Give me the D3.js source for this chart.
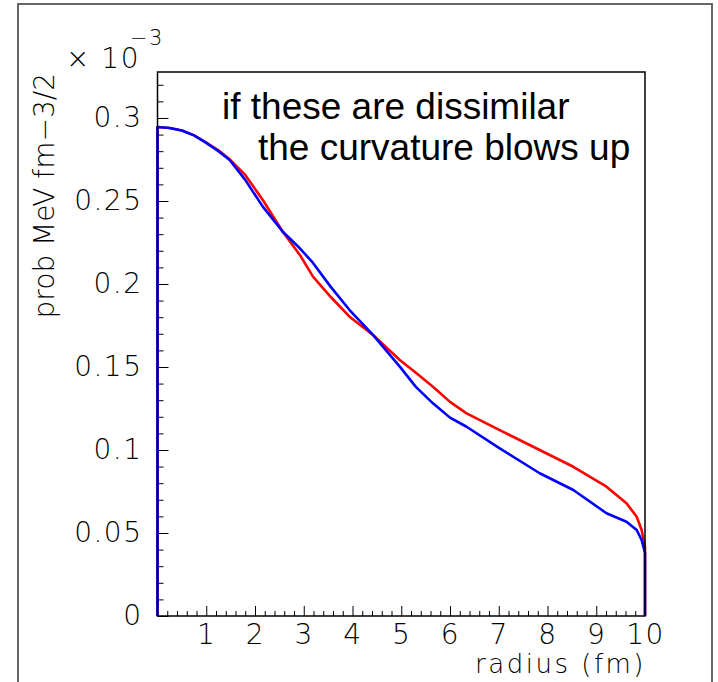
<!DOCTYPE html>
<html>
<head>
<meta charset="utf-8">
<script src="https://cdn.jsdelivr.net/npm/d3@7"></script>
<style>
  body { margin: 0; background: #fff; }
  .ax text { font-family: "DejaVu Sans", sans-serif; font-weight: 200; font-size: 28px; fill: #000; letter-spacing: 1.5px; }
  .ax line { stroke: #000; stroke-width: 1; }
</style>
</head>
<body>
<svg id="chart" width="718" height="682"></svg>
<script>
// values, y in units of 1e-3
var radius = [0, 0, 0.25, 0.5, 0.75, 1.0, 1.25, 1.48, 1.8, 2.16, 2.57, 2.92, 3.19, 3.55, 3.94, 4.42, 4.97, 5.3, 5.65, 6.0, 6.34, 7.02, 7.84, 8.53, 9.21, 9.62, 9.83, 9.93, 10, 10];
var probRed = [0, 0.2946, 0.2940, 0.2925, 0.2895, 0.2852, 0.2805, 0.2751, 0.2657, 0.2506, 0.2315, 0.2175, 0.2044, 0.1923, 0.1803, 0.1693, 0.1542, 0.1465, 0.1381, 0.1290, 0.1221, 0.1120, 0.1000, 0.0899, 0.0779, 0.0679, 0.0598, 0.0518, 0.0417, 0];
var probBlue = [0, 0.2946, 0.2940, 0.2925, 0.2895, 0.2850, 0.2800, 0.2747, 0.2627, 0.2466, 0.2315, 0.2215, 0.2127, 0.1984, 0.1843, 0.1693, 0.1502, 0.1380, 0.1281, 0.1195, 0.1140, 0.1010, 0.0860, 0.0759, 0.0619, 0.0568, 0.0518, 0.0458, 0.0380, 0];

var xMajor = [1, 2, 3, 4, 5, 6, 7, 8, 9, 10];
var yMajor = [0, 0.05, 0.1, 0.15, 0.2, 0.25, 0.3];
var yLabels = ["0", "0.05", "0.1", "0.15", "0.2", "0.25", "0.3"];

var svg = d3.select("#chart");

// canvas border
svg.append("rect")
  .attr("x", 18).attr("y", 4)
  .attr("width", 694).attr("height", 700)
  .attr("fill", "none")
  .attr("stroke", "#666")
  .attr("stroke-width", 2);

var L = 157.5, T = 72, R = 645, B = 616;
var x = d3.scaleLinear().domain([0, 10]).range([L, R]);
var y = d3.scaleLinear().domain([0, 0.3277]).range([B, T]);

var xMinor = d3.range(0.2, 10, 0.2).filter(function(d){ return Math.abs(d - Math.round(d)) > 0.01; });
var yMinor = d3.range(0.01, 0.325, 0.01).filter(function(d){ return Math.abs(d / 0.05 - Math.round(d / 0.05)) > 0.01; });

// minor ticks
svg.append("g").attr("class", "ax")
  .attr("transform", "translate(0," + B + ")")
  .call(d3.axisBottom(x).tickValues(xMinor).tickSize(-5).tickFormat(""))
  .call(function(g){ g.select(".domain").remove(); });
svg.append("g").attr("class", "ax")
  .attr("transform", "translate(" + L + ",0)")
  .call(d3.axisLeft(y).tickValues(yMinor).tickSize(-6).tickFormat(""))
  .call(function(g){ g.select(".domain").remove(); });

// major ticks + labels
svg.append("g").attr("class", "ax")
  .attr("transform", "translate(0," + B + ")")
  .call(d3.axisBottom(x).tickValues(xMajor).tickSize(-10).tickPadding(8).tickFormat(d3.format("d")))
  .call(function(g){ g.select(".domain").remove(); });
svg.append("g").attr("class", "ax")
  .attr("transform", "translate(" + L + ",0)")
  .call(d3.axisLeft(y).tickValues(yMajor).tickSize(-11).tickPadding(15).tickFormat(function(d, i){ return yLabels[i]; }))
  .call(function(g){ g.select(".domain").remove(); });

// curves
var line = d3.line()
  .x(function(d){ return x(d[0]); })
  .y(function(d){ return y(d[1]); });

svg.append("path")
  .datum(d3.zip(radius, probRed))
  .attr("d", line)
  .attr("fill", "none")
  .attr("stroke", "#ff0000")
  .attr("stroke-width", 2.6)
  .attr("stroke-linejoin", "round");

svg.append("path")
  .datum(d3.zip(radius, probBlue))
  .attr("d", line)
  .attr("fill", "none")
  .attr("stroke", "#0000ff")
  .attr("stroke-width", 2.6)
  .attr("stroke-linejoin", "round");

// frame
svg.append("rect")
  .attr("x", L).attr("y", T)
  .attr("width", R - L).attr("height", B - T)
  .attr("fill", "none")
  .attr("stroke", "#000")
  .attr("stroke-width", 1.5);

// axis titles
var ttl = svg.append("g").attr("class", "ax");
ttl.append("text")
  .attr("x", R + 1).attr("y", 673)
  .attr("text-anchor", "end")
  .style("font-size", "26px")
  .style("letter-spacing", "2.5px")
  .text("radius (fm)");
ttl.append("text")
  .attr("transform", "translate(54,73) rotate(-90)")
  .attr("text-anchor", "end")
  .style("letter-spacing", "0px")
  .text("prob MeV fm\u22123/2");
ttl.append("text")
  .attr("x", 66).attr("y", 68)
  .text("\u00d7 10");
ttl.append("text")
  .attr("x", 130).attr("y", 45)
  .style("font-size", "21px")
  .text("\u22123");

// annotation
var note = svg.append("g")
  .style("font-family", "'Liberation Sans', Arial, sans-serif")
  .style("font-size", "37px");
note.append("text").attr("x", 222).attr("y", 119).text("if these are dissimilar");
note.append("text").attr("x", 258).attr("y", 160).text("the curvature blows up");
</script>
</body>
</html>
